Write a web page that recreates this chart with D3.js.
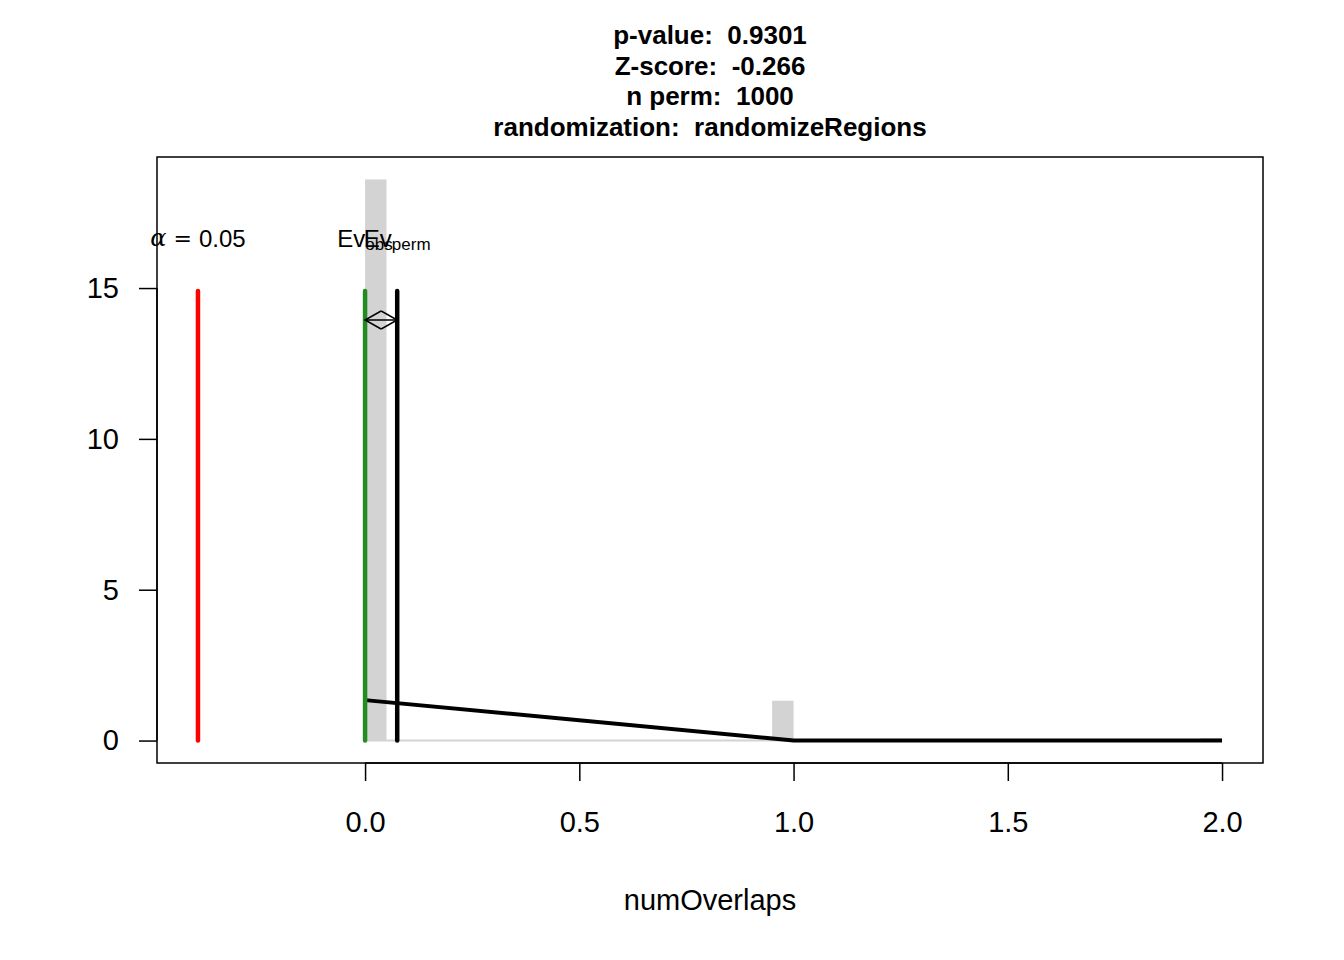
<!DOCTYPE html>
<html><head><meta charset="utf-8">
<script src="https://cdn.jsdelivr.net/npm/d3@7"></script>
<style>body{margin:0;background:#fff}svg{display:block}text{font-family:"Liberation Sans",Arial,sans-serif;white-space:pre}</style>
</head><body>
<svg id="c" width="1344" height="960"></svg>
<script>
const titleLines = ["p-value:  0.9301","Z-score:  -0.266","n perm:  1000","randomization:  randomizeRegions"];
const permValues = [0, 1, 2];
const permCounts = [930, 66, 4];
const nPerm = 1000;
const binWidth = 0.05;
const curveX = [0, 1, 2];
const curveY = [1.34, 0, 0];
const obsValue = 0;
const permMean = 0.075;
const alphaValue = -0.39;
const xTicks = [0, 0.5, 1, 1.5, 2];
const xTickLabels = ["0.0","0.5","1.0","1.5","2.0"];
const yTicks = [0, 5, 10, 15];
const xLim = [-0.39, 2.0];
const yLim = [0, 18.6];
const lineTop = 14.9;
const arrowY = 13.94;
const labelY = 16.65;

const svg = d3.select("#c");
const L = 157, R = 1263, T = 157, B = 763;
const xe = (xLim[1]-xLim[0])*0.04, ye = (yLim[1]-yLim[0])*0.04;
const x = d3.scaleLinear().domain([xLim[0]-xe, xLim[1]+xe]).range([L, R]);
const y = d3.scaleLinear().domain([yLim[0]-ye, yLim[1]+ye]).range([B, T]);

// histogram bins
const bins = d3.range(0, 2, binWidth).map(b0 => ({x0: b0, x1: b0 + binWidth, n: 0}));
permValues.forEach((v, i) => {
  let idx = v === 0 ? 0 : Math.round(v / binWidth) - 1;
  bins[idx].n += permCounts[i];
});
svg.append("g").selectAll("rect").data(bins).join("rect")
  .attr("x", d => x(d.x0)).attr("width", d => x(d.x1) - x(d.x0))
  .attr("y", d => y(d.n / nPerm / binWidth))
  .attr("height", d => Math.max(0, y(0) - y(d.n / nPerm / binWidth)))
  .attr("fill", "#d3d3d3");
svg.append("line").attr("x1", x(0)).attr("x2", x(2)).attr("y1", y(0)).attr("y2", y(0))
  .attr("stroke", "#d3d3d3").attr("stroke-width", 2);

// density curve
svg.append("path").datum(curveX.map((v, i) => [v, curveY[i]]))
  .attr("d", d3.line().x(d => x(d[0])).y(d => y(d[1])))
  .attr("fill", "none").attr("stroke", "#000").attr("stroke-width", 4);

// vertical lines
const vline = (v, col) => svg.append("line").attr("x1", x(v)).attr("x2", x(v))
  .attr("y1", y(0)).attr("y2", y(lineTop)).attr("stroke", col).attr("stroke-width", 4.5).attr("stroke-linecap", "round");
vline(alphaValue, "#ff0000");
vline(obsValue, "#228b22");
vline(permMean, "#000000");

// double arrow
const ax0 = x(obsValue), ax1 = x(permMean), ay = y(arrowY);
svg.append("line").attr("x1", ax0).attr("x2", ax1).attr("y1", ay).attr("y2", ay).attr("stroke", "#000").attr("stroke-width", 1.5);
const ah = 16, aw = 9;
svg.append("path").attr("d", `M${ax0+ah},${ay-aw}L${ax0},${ay}L${ax0+ah},${ay+aw}`).attr("fill","none").attr("stroke","#000").attr("stroke-width",1.5);
svg.append("path").attr("d", `M${ax1-ah},${ay-aw}L${ax1},${ay}L${ax1-ah},${ay+aw}`).attr("fill","none").attr("stroke","#000").attr("stroke-width",1.5);

// labels
const at = svg.append("text").attr("x", x(alphaValue)).attr("y", y(labelY)).attr("text-anchor", "middle")
  .attr("dominant-baseline", "central").attr("font-size", 24);
at.append("tspan").attr("font-family", "DejaVu Serif, serif").attr("font-style","italic").text("α");
at.append("tspan").attr("font-family", "DejaVu Serif, serif").attr("font-size", 22).text(" = ");
at.append("tspan").text("0.05");

const evLabel = (v, sub) => {
  const t = svg.append("text").attr("x", x(v)).attr("y", y(labelY)).attr("text-anchor", "middle")
    .attr("dominant-baseline", "central").attr("font-size", 24);
  t.append("tspan").text("Ev");
  t.append("tspan").attr("font-size", 17).attr("dy", 6).text(sub);
};
evLabel(obsValue, "obs");
evLabel(permMean, "perm");

// box
svg.append("rect").attr("x", L).attr("y", T).attr("width", R - L).attr("height", B - T)
  .attr("fill", "none").attr("stroke", "#000").attr("stroke-width", 1.5);

// axes
const xa = svg.append("g").attr("transform", `translate(0,${B})`)
  .call(d3.axisBottom(x).tickValues(xTicks).tickFormat((d, i) => xTickLabels[i]).tickSize(18).tickPadding(32));
const ya = svg.append("g").attr("transform", `translate(${L},0)`)
  .call(d3.axisLeft(y).tickValues(yTicks).tickSize(18).tickPadding(20));
[xa, ya].forEach(g => {
  g.selectAll("path").attr("stroke-width", 1.5);
  g.selectAll("line").attr("stroke-width", 1.5);
  g.selectAll("text").attr("font-size", 29).attr("font-family", "Liberation Sans, Arial, sans-serif").attr("fill","#000");
});
xa.selectAll("text").attr("dy", "0.32em").attr("y", 60);
xa.select("path.domain").attr("d", `M${x(0)},0H${x(2)}`);
ya.select("path.domain").attr("d", `M0,${y(0)}V${y(15)}`);

// axis title
svg.append("text").attr("x", (L + R) / 2).attr("y", 900).attr("text-anchor", "middle")
  .attr("dominant-baseline", "central").attr("font-size", 29).text("numOverlaps");

// title
svg.append("g").selectAll("text").data(titleLines).join("text")
  .attr("x", (L + R) / 2).attr("y", (d, i) => 35 + i * 30.5).attr("text-anchor", "middle")
  .attr("dominant-baseline", "central").attr("font-size", 26).attr("font-weight", "bold").text(d => d);
</script>
</body></html>
